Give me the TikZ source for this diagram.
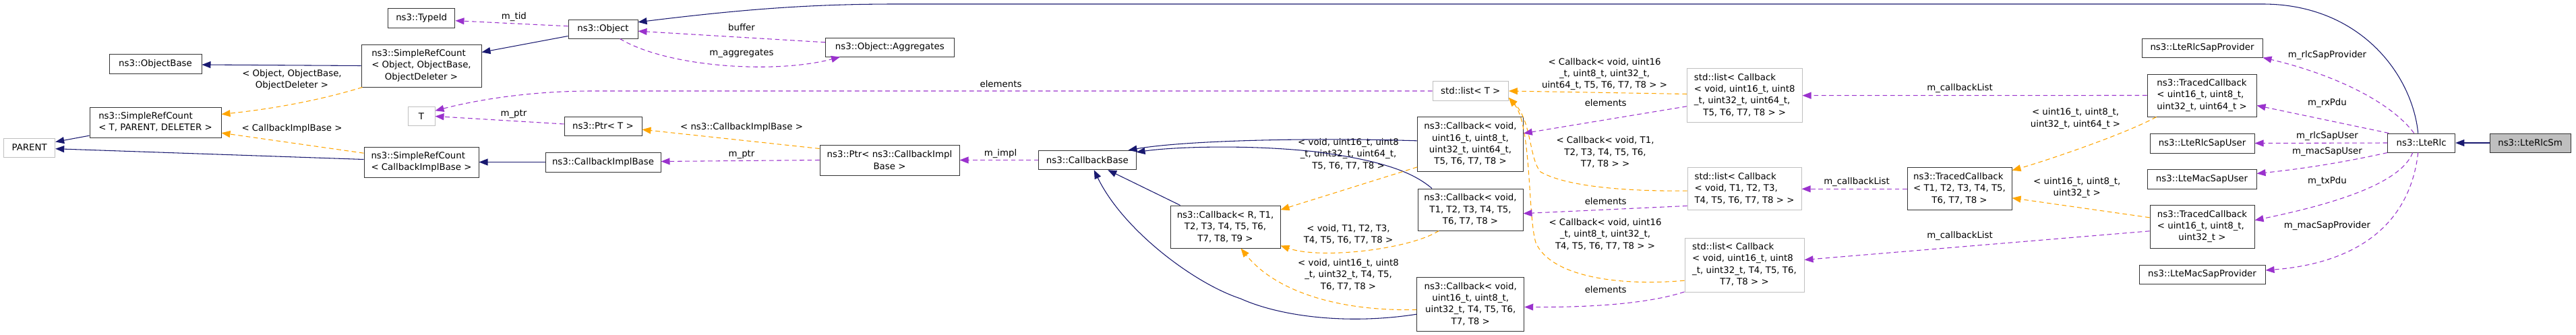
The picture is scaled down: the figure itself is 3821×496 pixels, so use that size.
\documentclass[tikz,border=0pt]{standalone}
\usepackage{fontspec}
\setmainfont{DejaVu Sans}
\usetikzlibrary{arrows.meta,calc}
\definecolor{navy}{HTML}{191970}
\definecolor{orng}{HTML}{FFA500}
\definecolor{purp}{HTML}{9A32CD}
\definecolor{gry}{HTML}{BFBFBF}
\newcommand{\lft}[1]{\begin{tabular}{@{}l@{}}#1\end{tabular}}
\newcommand{\ctr}[1]{\multicolumn{1}{@{}c@{}}{#1}}
\tikzset{
 box/.style={draw=black!80, line width=0.75pt, fill=white, inner sep=0pt, font=\fontsize{10}{13}\selectfont, align=center},
 gbox/.style={box, draw=gry},
 sz/.style 2 args={minimum width=#1*0.75pt, minimum height=#2*0.75pt},
 lbl/.style={inner sep=0pt, font=\fontsize{10}{13}\selectfont, align=center},
 tip/.style={-{Triangle[length=9.75pt,width=7.5pt]}},
 inh/.style={draw=navy, line width=0.8pt, tip},
 tpl/.style={draw=orng, line width=0.8pt, dash pattern=on 5pt off 3.5pt, tip},
 use/.style={draw=purp, line width=0.8pt, dash pattern=on 5pt off 3.5pt, tip},
}
\begin{document}
\begin{tikzpicture}[x=0.75pt,y=-0.75pt]
\useasboundingbox (0,0) rectangle (3821,496);
\fill[white] (0,0) rectangle (3821,496);

% nodes
\node[gbox, sz={76}{28}] (parent) at (43.7,219) {PARENT};
\node[box, sz={195}{45}] (srcT) at (230.5,181.5) {\lft{ns3::SimpleRefCount\\< T, PARENT, DELETER >}};
\node[box, sz={137}{28.3}] (objbase) at (230.5,95) {ns3::ObjectBase};
\node[box, sz={99.5}{28.3}] (typeid) at (625.2,27) {ns3::TypeId};
\node[box, sz={178}{63}] (srcObj) at (625,97.5) {\lft{ns3::SimpleRefCount\\< Object, ObjectBase,\\\ctr{ObjectDeleter >}}};
\node[gbox, sz={40}{27.5}] (T) at (625,172.5) {T};
\node[box, sz={170}{45}] (srcCIB) at (625,240.5) {\lft{ns3::SimpleRefCount\\< CallbackImplBase >}};
\node[box, sz={103}{28}] (object) at (894.5,43) {ns3::Object};
\node[box, sz={190.5}{28}] (aggr) at (1319.8,70) {ns3::Object::Aggregates};
\node[box, sz={115}{28}] (ptrT) at (894.5,187) {ns3::Ptr< T >};
\node[box, sz={171}{29}] (cib) at (894.5,240.5) {ns3::CallbackImplBase};
\node[box, sz={207}{45}] (ptrCIB) at (1319.5,237.5) {ns3::Ptr< ns3::CallbackImpl\\Base >};
\node[box, sz={144.3}{28.4}] (cbbase) at (1612.9,237.5) {ns3::CallbackBase};
\node[box, sz={163}{63}] (cbR) at (1817.5,336.5) {ns3::Callback< R, T1,\\T2, T3, T4, T5, T6,\\T7, T8, T9 >};
\node[gbox, sz={112.3}{28.6}] (listT) at (2181.2,135) {std::list< T >};
\node[box, sz={156.6}{80.7}] (cbU64) at (2181,213.7) {ns3::Callback< void,\\uint16\_t, uint8\_t,\\uint32\_t, uint64\_t,\\T5, T6, T7, T8 >};
\node[box, sz={156}{62}] (cbT1) at (2181,311) {ns3::Callback< void,\\T1, T2, T3, T4, T5,\\T6, T7, T8 >};
\node[box, sz={159}{80}] (cbT4) at (2181.2,451) {ns3::Callback< void,\\uint16\_t, uint8\_t,\\uint32\_t, T4, T5, T6,\\T7, T8 >};
\node[gbox, sz={170.6}{80}] (listU64) at (2587.7,141.7) {\lft{std::list< Callback\\< void, uint16\_t, uint8\\\_t, uint32\_t, uint64\_t,\\\ctr{T5, T6, T7, T8 > >}}};
\node[gbox, sz={169}{62.7}] (listT1) at (2587.5,280.3) {\lft{std::list< Callback\\< void, T1, T2, T3,\\\ctr{T4, T5, T6, T7, T8 > >}}};
\node[gbox, sz={177}{80}] (listT4) at (2587.5,393) {\lft{std::list< Callback\\< void, uint16\_t, uint8\\\_t, uint32\_t, T4, T5, T6,\\\ctr{T7, T8 > >}}};
\node[box, sz={155}{62.7}] (tcT) at (2906.5,280.3) {\lft{ns3::TracedCallback\\< T1, T2, T3, T4, T5,\\\ctr{T6, T7, T8 >}}};
\node[box, sz={179}{28}] (rlcSapProv) at (3266.5,71) {ns3::LteRlcSapProvider};
\node[box, sz={162}{63}] (tcU64) at (3266,141.5) {\lft{ns3::TracedCallback\\< uint16\_t, uint8\_t,\\\ctr{uint32\_t, uint64\_t >}}};
\node[box, sz={155}{29}] (rlcSapUser) at (3266.5,212.5) {ns3::LteRlcSapUser};
\node[box, sz={162}{29}] (macSapUser) at (3266,265.5) {ns3::LteMacSapUser};
\node[box, sz={155}{64}] (tcU32) at (3266.5,336) {\lft{ns3::TracedCallback\\< uint16\_t, uint8\_t,\\\ctr{uint32\_t >}}};
\node[box, sz={187}{28}] (macSapProv) at (3266.5,407) {ns3::LteMacSapProvider};
\node[box, sz={100}{28}] (lterlc) at (3591.7,212) {ns3::LteRlc};
\node[box, fill=gry, sz={120}{28}] (lterlcsm) at (3753,212) {ns3::LteRlcSm};

% labels
\node[lbl] (lObjDel) at (433,118.3) {< Object, ObjectBase,\\ObjectDeleter >};
\node[lbl] (lCIB) at (433,191) {< CallbackImplBase >};
\node[lbl] (lmtid) at (762.4,25) {m\_tid};
\node[lbl] (lbuffer) at (1100,41) {buffer};
\node[lbl] (lmagg) at (1100,79) {m\_aggregates};
\node[lbl] (lelemT) at (1484.5,125) {elements};
\node[lbl] (lmptr1) at (762,169) {m\_ptr};
\node[lbl] (lnsCIB) at (1100,189) {< ns3::CallbackImplBase >};
\node[lbl] (lmptr2) at (1100,229) {m\_ptr};
\node[lbl] (lmimpl) at (1484,228) {m\_impl};
\node[lbl] (lU64) at (2000,228.6) {< void, uint16\_t, uint8\\\_t, uint32\_t, uint64\_t,\\T5, T6, T7, T8 >};
\node[lbl] (lT1) at (2000,348) {< void, T1, T2, T3,\\T4, T5, T6, T7, T8 >};
\node[lbl] (lT4) at (2000,407.5) {< void, uint16\_t, uint8\\\_t, uint32\_t, T4, T5,\\T6, T7, T8 >};
\node[lbl] (llU64) at (2380,110) {< Callback< void, uint16\\\_t, uint8\_t, uint32\_t,\\uint64\_t, T5, T6, T7, T8 > >};
\node[lbl] (le1) at (2381.7,152.7) {elements};
\node[lbl] (llT1) at (2381,226) {< Callback< void, T1,\\T2, T3, T4, T5, T6,\\T7, T8 > >};
\node[lbl] (le2) at (2381.7,299) {elements};
\node[lbl] (llT4) at (2381,347.5) {< Callback< void, uint16\\\_t, uint8\_t, uint32\_t,\\T4, T5, T6, T7, T8 > >};
\node[lbl] (le3) at (2381.7,430) {elements};
\node[lbl] (lcb1) at (2907,131) {m\_callbackList};
\node[lbl] (lcb2) at (2754,270) {m\_callbackList};
\node[lbl] (lcb3) at (2907,350) {m\_callbackList};
\node[lbl] (ltU64) at (3078.5,176) {< uint16\_t, uint8\_t,\\uint32\_t, uint64\_t >};
\node[lbl] (ltU32) at (3080.7,278.5) {< uint16\_t, uint8\_t,\\uint32\_t >};
\node[lbl] (lrsp) at (3452,82) {m\_rlcSapProvider};
\node[lbl] (lrx) at (3452,153) {m\_rxPdu};
\node[lbl] (lrsu) at (3452,202) {m\_rlcSapUser};
\node[lbl] (lmsu) at (3452,225) {m\_macSapUser};
\node[lbl] (ltx) at (3452,269) {m\_txPdu};
\node[lbl] (lmsp) at (3452,335) {m\_macSapProvider};

% inheritance
\draw[inh] ($(srcT.north west)+(0,42.7)$) -- ($(parent.north east)+(0,6)$);
\draw[inh] ($(srcCIB.north west)+(0,19)$) -- ($(parent.east)+(0,1.7)$);
\draw[inh] (srcObj.west) -- ($(objbase.east)+(0,1)$);
\draw[inh] ($(object.south west)+(0,-4)$) -- ($(srcObj.north east)+(0,12)$);
\draw[inh] (cib.west) -- (srcCIB.east);
\draw[inh] ($(lterlc.north)+(-5,0)$) .. controls (3578,110) and (3500,6) .. (3356,6) -- (1330,6) .. controls (1200,6) and (1100,14) .. ($(object.north east)+(0,4.3)$);
\draw[inh] (lterlcsm.west) -- (lterlc.east);
\draw[inh] ($(cbR.north west)+(15,0)$) -- ($(cbbase.south west)+(103,0)$);
\draw[inh] ($(cbU64.north west)+(0,36)$) .. controls (1950,204) and (1760,208) .. ($(cbbase.north east)+(-12,0)$);
\draw[inh] ($(cbT1.north west)+(21.5,0)$) .. controls (2095,255) and (2050,238) .. (1950,225) .. controls (1850,214) and (1740,218) .. ($(cbbase.north east)+(0,3)$);
\draw[inh] ($(cbT4.north west)+(0,55.7)$) .. controls (2000,482) and (1900,470) .. (1840,443) .. controls (1770,420) and (1665,340) .. ($(cbbase.south west)+(82.5,0)$);

% template instances
\draw[tpl] ($(srcObj.south west)+(2,0)$) .. controls (470,150) and (400,162) .. ($(srcT.north east)+(0,11)$);
\draw[tpl] ($(srcCIB.north west)+(0,9.7)$) -- ($(srcT.south east)+(0,-7.3)$);
\draw[tpl] ($(ptrCIB.north west)+(0,6)$) -- ($(ptrT.north east)+(0,19.7)$);
\draw[tpl] ($(cbU64.south west)+(0,-6.7)$) -- ($(cbR.north east)+(0,6.7)$);
\draw[tpl] ($(cbT1.south west)+(31.7,0)$) .. controls (2090,370) and (1960,385) .. ($(cbR.south east)+(0,-4)$);
\draw[tpl] ($(cbT4.north west)+(0,49)$) .. controls (1980,462) and (1890,430) .. ($(cbR.south west)+(105,0)$);
\draw[tpl] ($(listU64.north west)+(0,38.3)$) -- (listT.east);
\draw[tpl] ($(listT1.north west)+(0,34.7)$) .. controls (2400,284) and (2320,275) .. (2285,255) .. controls (2268,235) and (2272,180) .. ($(listT.south east)+(0,-5)$);
\draw[tpl] ($(listT4.north west)+(0,63.7)$) .. controls (2400,425) and (2300,410) .. (2278,360) .. controls (2266,320) and (2272,185) .. ($(listT.south east)+(0,-5)$);
\draw[tpl] ($(tcU64.south west)+(14,0)$) .. controls (3150,200) and (3030,240) .. ($(tcT.north east)+(0,4.3)$);
\draw[tpl] ($(tcU32.north west)+(0,19.3)$) -- ($(tcT.south east)+(0,-18.4)$);

% usage
\draw[use] ($(object.north west)+(0,10.3)$) -- ($(typeid.east)+(0,3.7)$);
\draw[use] ($(aggr.north west)+(0,7.3)$) -- ($(object.north east)+(0,17.7)$);
\draw[use] ($(object.south west)+(77,0)$) .. controls (990,100) and (1150,110) .. ($(aggr.south west)+(22,0)$);
\draw[use] (listT.west) -- (880,135) .. controls (780,135) and (700,150) .. ($(T.north east)+(0,6)$);
\draw[use] ($(ptrT.west)+(0,-3)$) -- (T.east);
\draw[use] (ptrCIB.west) -- ($(cib.east)+(0,-1)$);
\draw[use] (cbbase.west) -- (ptrCIB.east);
\draw[use] ($(listU64.north west)+(0,56.6)$) -- ($(cbU64.north east)+(0,25)$);
\draw[use] ($(listT1.south west)+(0,-6.7)$) -- ($(cbT1.east)+(0,5.7)$);
\draw[use] ($(listT4.south west)+(0,-0.5)$) .. controls (2440,452) and (2350,456) .. ($(cbT4.north east)+(0,45)$);
\draw[use] (tcU64.west) -- (listU64.east);
\draw[use] (tcT.west) -- (listT1.east);
\draw[use] ($(tcU32.north west)+(0,39.3)$) -- ($(listT4.north east)+(0,33)$);
\draw[use] ($(lterlc.north)+(-11,0)$) .. controls (3545,150) and (3460,110) .. (rlcSapProv.south east);
\draw[use] ($(lterlc.north west)+(2,0)$) -- ($(tcU64.east)+(0,15)$);
\draw[use] (lterlc.west) -- (rlcSapUser.east);
\draw[use] (lterlc.south west) .. controls (3480,240) and (3420,250) .. ($(macSapUser.north east)+(0,7)$);
\draw[use] ($(lterlc.south)+(-13,0)$) .. controls (3560,275) and (3450,305) .. ($(tcU32.north east)+(0,23.3)$);
\draw[use] ($(lterlc.south)+(-5,0)$) .. controls (3575,330) and (3500,390) .. ($(macSapProv.east)+(0,-6)$);
\end{tikzpicture}
\end{document}
